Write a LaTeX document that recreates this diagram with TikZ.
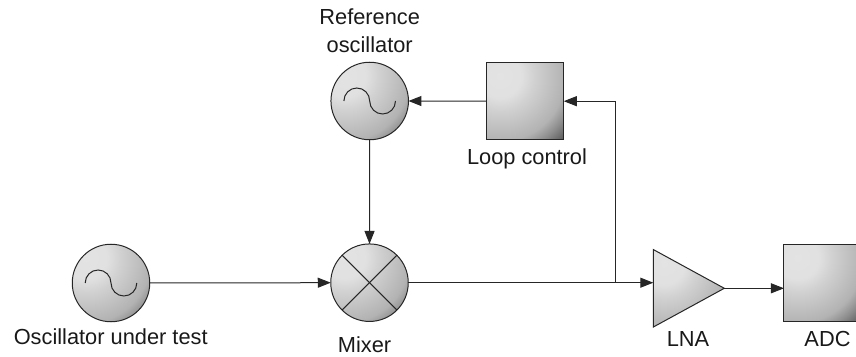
\documentclass[tikz,border=0pt]{standalone}
\usepackage{fontspec}
\setmainfont{Liberation Sans}
\usetikzlibrary{arrows.meta,shapes.geometric}
\pgfdeclareradialshading{blockgrad}{\pgfpoint{0bp}{0bp}}{%
  color(0bp)=(black!11);
  color(6bp)=(black!12);
  color(9.5bp)=(black!18);
  color(18bp)=(black!30);
  color(21bp)=(black!44);
  color(25bp)=(black!66);
  color(50bp)=(black!66)}
\tikzset{
  x=1pt,y=1pt,
  graded/.style={draw=black!85,line width=1pt,inner sep=0pt,outer sep=0pt,
    path picture={\shade[shading=blockgrad] ([shift={(-25,25)}]path picture bounding box.center) circle (90);}},
  osc/.style={graded,circle,minimum size=77.5pt},
  blockbox/.style={graded,rectangle,minimum size=77.5pt},
  amp/.style={graded,isosceles triangle,isosceles triangle apex angle=57,
    isosceles triangle stretches,minimum height=71pt,minimum width=77.5pt,anchor=apex},
  label/.style={inner sep=0pt,anchor=base,font=\fontsize{21.8}{27.7}\selectfont,text=black!90},
  link/.style={draw=black!85,line width=1pt,-{Triangle[length=13pt,width=10pt]}},
  wire/.style={draw=black!85,line width=1pt},
  glyph/.style={draw=black!85,line width=1pt},
}
\begin{document}
\begin{tikzpicture}
\useasboundingbox (0,0) rectangle (856,356);
\node[osc] (ref) at (369.7,255) {};
\node[osc] (ut) at (111,73) {};
\node[osc] (mix) at (369.5,73.3) {};
\node[blockbox] (loop) at (525,254.8) {};
\node[amp] (lna) at (724.3,67.7) {};
\node[blockbox] (adc) at (822.7,73.2) {};
\coordinate (lnain) at (653.3,73.3);
\coordinate (tap) at (615.3,73.3);
\coordinate (corner) at (615.3,254.8);
% sine glyphs
\foreach \n in {ref,ut}{
  \draw[glyph] ([xshift=-25.8pt]\n.center) arc[x radius=12.9,y radius=13,start angle=180,end angle=0]
     arc[x radius=12.9,y radius=13,start angle=180,end angle=360];
}
% mixer cross
\draw[glyph] (mix.north west) -- (mix.south east);
\draw[glyph] (mix.north east) -- (mix.south west);
% connectors
\draw[link] (ref.south) -- (mix.north);
\draw[link] (ut.east) -- (mix.west);
\draw[wire] (mix.east) -- (tap);
\draw[link] (tap) -- (lnain);
\draw[wire] (tap) -- (corner);
\draw[link] (corner) -- (loop.east);
\draw[link] (loop.west) -- (ref.east);
\draw[link] (lna.apex) -- (lna.apex -| adc.west);
% labels
\node[label] (t1) at (369.7,331) {Reference};
\node[label] (t2) at (369.7,303.3) {oscillator};
\node[label] (t3) at (527,191) {Loop control};
\node[label] (t4) at (110.7,12) {Oscillator under test};
\node[label] (t5) at (364.5,4) {Mixer};
\node[label] (t6) at (688,10) {LNA};
\node[label] (t7) at (827.5,10) {ADC};
\end{tikzpicture}
\end{document}
